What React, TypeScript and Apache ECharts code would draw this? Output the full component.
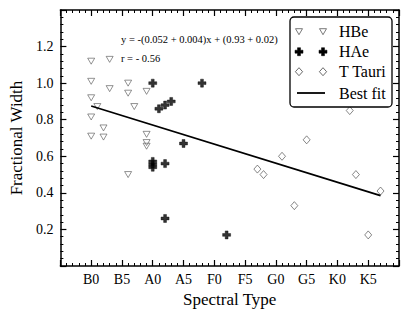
import React, { useEffect, useRef } from "react";
import * as echarts from "echarts";

// Spectral type axis: B0 = 0, each subtype = 1 unit
const tickValues = [0, 5, 10, 15, 20, 25, 30, 35, 40, 45];
const tickLabels = ["B0", "B5", "A0", "A5", "F0", "F5", "G0", "G5", "K0", "K5"];

const hbeX = [0, 3, 0, 3, 6, 6, 9, 0, 1, 7, 0, 2, 0, 2, 9, 9, 9, 6];
const hbeY = [1.12, 1.13, 1.01, 0.97, 1.0, 0.945, 0.955, 0.92, 0.872, 0.872, 0.815, 0.755, 0.71, 0.705, 0.72, 0.675, 0.655, 0.5];

const haeX = [10, 18, 11, 12, 13, 15, 10, 10, 10, 12, 12, 22];
const haeY = [1.0, 1.0, 0.86, 0.88, 0.9, 0.67, 0.572, 0.556, 0.54, 0.56, 0.26, 0.17];

const ttX = [27, 28, 31, 33, 35, 42, 43, 45, 47];
const ttY = [0.53, 0.5, 0.6, 0.33, 0.69, 0.85, 0.5, 0.17, 0.41];

const fitX = [0, 47];
const fitY = [0.875, 0.385];

const legendNames = ["HBe", "HAe", "T Tauri", "Best fit"];
const eqText = "y = -(0.052 + 0.004)x + (0.93 + 0.02)";
const rText = "r = - 0.56";

const FONT = "'Liberation Serif', 'Times New Roman', serif";
const TRI_PATH = "path://M0,0 L10,0 L5,8.6 Z";
const CROSS_PATH = "path://M2.9,0 H6.1 V2.9 H9 V6.1 H6.1 V9 H2.9 V6.1 H0 V2.9 H2.9 Z";

const zip = (xs: number[], ys: number[]) => xs.map((x, i) => [x, ys[i]]);

function triPts(cx: number, cy: number) {
  return [[cx - 3.5, cy - 3], [cx + 3.5, cy - 3], [cx, cy + 3]];
}
function crossPts(cx: number, cy: number) {
  const a = 4, t = 1.5;
  return [
    [cx - t, cy - a], [cx + t, cy - a], [cx + t, cy - t], [cx + a, cy - t],
    [cx + a, cy + t], [cx + t, cy + t], [cx + t, cy + a], [cx - t, cy + a],
    [cx - t, cy + t], [cx - a, cy + t], [cx - a, cy - t], [cx - t, cy - t],
  ];
}
function diaPts(cx: number, cy: number) {
  return [[cx, cy - 4], [cx + 3.6, cy], [cx, cy + 4], [cx - 3.6, cy]];
}

export default function App() {
  const ref = useRef<HTMLDivElement>(null);
  useEffect(() => {
    document.body.style.margin = "0";
    const chart = echarts.init(ref.current!, null, { renderer: "svg" });

    const xLabel = (v: number) => {
      const i = tickValues.indexOf(v);
      return i >= 0 ? tickLabels[i] : "";
    };
    const baseX = {
      type: "value",
      min: -5,
      max: 50,
      interval: 5,
      axisLine: { show: true, onZero: false, lineStyle: { color: "#000", width: 1.5 } },
      axisTick: { show: true, inside: true, length: 6, lineStyle: { color: "#000", width: 1.2 } },
      minorTick: { show: true, splitNumber: 5, length: 3, lineStyle: { color: "#000", width: 1 } },
      splitLine: { show: false },
      minorSplitLine: { show: false },
    };
    const baseY = {
      type: "value",
      min: 0,
      max: 1.4,
      interval: 0.2,
      axisLine: { show: true, onZero: false, lineStyle: { color: "#000", width: 1.5 } },
      axisTick: { show: true, inside: true, length: 6, lineStyle: { color: "#000", width: 1.2 } },
      minorTick: { show: true, splitNumber: 5, length: 3, lineStyle: { color: "#000", width: 1 } },
      splitLine: { show: false },
      minorSplitLine: { show: false },
    };

    const lx1 = 299, lx2 = 323, ltx = 339;
    const rows = [31.7, 51.7, 71.7, 93];
    const legendGraphics: any[] = [
      {
        type: "rect",
        shape: { x: 290, y: 17, width: 102, height: 90, r: 4 },
        style: { fill: "#fff", stroke: "#000", lineWidth: 1.3 },
        z: 100,
      },
    ];
    [lx1, lx2].forEach((cx) => {
      legendGraphics.push({ type: "polygon", shape: { points: triPts(cx, rows[0]) }, style: { fill: "none", stroke: "#555", lineWidth: 0.8 }, z: 101 });
      legendGraphics.push({ type: "polygon", shape: { points: crossPts(cx, rows[1]) }, style: { fill: "#000", stroke: "#000", lineWidth: 0.5 }, z: 101 });
      legendGraphics.push({ type: "polygon", shape: { points: diaPts(cx, rows[2]) }, style: { fill: "none", stroke: "#444", lineWidth: 0.8 }, z: 101 });
    });
    legendGraphics.push({ type: "line", shape: { x1: 297, y1: rows[3], x2: 325, y2: rows[3] }, style: { stroke: "#000", lineWidth: 1.8 }, z: 101 });
    legendNames.forEach((n, i) => {
      legendGraphics.push({
        type: "text",
        x: ltx,
        y: rows[i],
        style: { text: n, fontFamily: FONT, fontSize: 16, fill: "#000", verticalAlign: "middle", align: "left" },
        z: 101,
      });
    });

    chart.setOption({
      animation: false,
      grid: { left: 56, right: 10, top: 10, bottom: 52, containLabel: false },
      xAxis: [
        {
          ...baseX,
          position: "bottom",
          name: "Spectral Type",
          nameLocation: "middle",
          nameGap: 23,
          nameTextStyle: { fontFamily: FONT, fontSize: 17, color: "#000" },
          axisLabel: { show: true, margin: 6, fontFamily: FONT, fontSize: 14, color: "#000", formatter: xLabel },
        },
        { ...baseX, position: "top", axisLabel: { show: false } },
      ],
      yAxis: [
        {
          ...baseY,
          position: "left",
          name: "Fractional Width",
          nameLocation: "middle",
          nameGap: 29,
          nameTextStyle: { fontFamily: FONT, fontSize: 17, color: "#000" },
          axisLabel: {
            show: true,
            margin: 7,
            fontFamily: FONT,
            fontSize: 14,
            color: "#000",
            formatter: (v: number) => (v < 0.1 || v > 1.3 ? "" : v.toFixed(1)),
          },
        },
        { ...baseY, position: "right", axisLabel: { show: false } },
      ],
      series: [
        {
          name: "HBe",
          type: "scatter",
          data: zip(hbeX, hbeY),
          symbol: TRI_PATH,
          symbolSize: [7, 6],
          itemStyle: { color: "rgba(0,0,0,0)", borderColor: "#555", borderWidth: 0.8 },
        },
        {
          name: "HAe",
          type: "scatter",
          data: zip(haeX, haeY),
          symbol: CROSS_PATH,
          symbolSize: 8,
          itemStyle: { color: "#000", borderColor: "#000", borderWidth: 0.5 },
        },
        {
          name: "T Tauri",
          type: "scatter",
          data: zip(ttX, ttY),
          symbol: "diamond",
          symbolSize: [7, 8],
          itemStyle: { color: "rgba(0,0,0,0)", borderColor: "#444", borderWidth: 0.8 },
        },
        {
          name: "Best fit",
          type: "line",
          data: zip(fitX, fitY),
          symbol: "none",
          lineStyle: { color: "#000", width: 1.8 },
        },
      ],
      graphic: [
        { type: "text", x: 121, y: 39, style: { text: eqText, fontFamily: FONT, fontSize: 10.5, fill: "#000", verticalAlign: "middle" } },
        { type: "text", x: 121, y: 58, style: { text: rText, fontFamily: FONT, fontSize: 10.5, fill: "#000", verticalAlign: "middle" } },
        ...legendGraphics,
      ],
    });
    return () => chart.dispose();
  }, []);
  return <div ref={ref} style={{ width: 409, height: 318 }} />;
}
